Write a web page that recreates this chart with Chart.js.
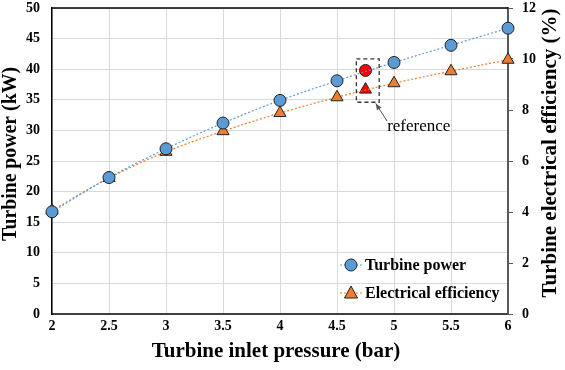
<!DOCTYPE html>
<html>
<head>
<meta charset="utf-8">
<script src="https://cdn.jsdelivr.net/npm/chart.js@4.4.0/dist/chart.umd.min.js"></script>
<style>
  html, body { margin: 0; padding: 0; background: #fff; }
  #wrap { width: 565px; height: 370px; }
</style>
</head>
<body>
<div id="wrap"><canvas id="chart" width="565" height="370"></canvas></div>
<script>
// values
const pressure = [2, 2.5, 3, 3.5, 4, 4.5, 5, 5.5, 6];
const turbinePower = [16.7, 22.3, 27.0, 31.2, 34.9, 38.1, 41.1, 43.9, 46.7];
const elecEfficiency = [4.06, 5.33, 6.36, 7.17, 7.88, 8.5, 9.05, 9.52, 9.97];
const refPressure = [4.75];
const refPower = [39.8];
const refEfficiency = [8.8];
const seriesNames = ['Turbine power', 'Electrical efficiency'];
const refLabel = 'reference';
const xTitle = 'Turbine inlet pressure (bar)';
const yTitle = 'Turbine power (kW)';
const y2Title = 'Turbine electrical efficiency (%)';

const BLUE = '#5b9bd5', ORANGE = '#ed7d31', RED = '#ff0000';
const FONT = '"Liberation Serif", "Times New Roman", serif';

function pts(xs, ys) { return xs.map((x, i) => ({ x: x, y: ys[i] })); }

// top border of the plot frame
const frame = {
  id: 'frame',
  afterDatasetsDraw(chart) {
    const a = chart.chartArea, ctx = chart.ctx;
    ctx.save();
    ctx.strokeStyle = '#000';
    ctx.lineWidth = 1.5;
    ctx.beginPath();
    ctx.moveTo(a.left, a.top);
    ctx.lineTo(a.right, a.top);
    ctx.stroke();
    ctx.restore();
  }
};

// axis titles, drawn by hand so they sit where the original has them
const axisTitles = {
  id: 'axisTitles',
  afterDraw(chart) {
    const a = chart.chartArea, ctx = chart.ctx;
    ctx.save();
    ctx.fillStyle = '#000';
    ctx.textAlign = 'center';
    ctx.textBaseline = 'middle';
    // bottom
    ctx.font = 'bold 21px ' + FONT;
    ctx.fillText(xTitle, (a.left + a.right) / 2 - 4, 352);
    // left (squeezed a little, like the original)
    ctx.save();
    ctx.translate(11, 154);
    ctx.rotate(-Math.PI / 2);
    ctx.font = 'bold 20px ' + FONT;
    const w = ctx.measureText(yTitle).width;
    ctx.scale(174 / w, 1);
    ctx.fillText(yTitle, 0, 0);
    ctx.restore();
    // right
    ctx.save();
    ctx.translate(551, 153);
    ctx.rotate(-Math.PI / 2);
    ctx.font = 'bold 21px ' + FONT;
    ctx.fillText(y2Title, 0, 0);
    ctx.restore();
    ctx.restore();
  }
};

// dashed box + arrow + "reference" label, placed in data units
const refNote = {
  id: 'refNote',
  afterDatasetsDraw(chart) {
    const x = chart.scales.x, y = chart.scales.y, ctx = chart.ctx;
    const x0 = x.getPixelForValue(4.67), x1 = x.getPixelForValue(4.87);
    const y0 = y.getPixelForValue(41.7), y1 = y.getPixelForValue(34.6);
    ctx.save();
    ctx.strokeStyle = '#333';
    ctx.lineWidth = 1.3;
    ctx.setLineDash([4, 3]);
    ctx.strokeRect(x0, y0, x1 - x0, y1 - y0);
    ctx.setLineDash([]);
    // arrow
    const tx = x.getPixelForValue(4.84), ty = y.getPixelForValue(34.4);
    const sx = x.getPixelForValue(4.94), sy = y.getPixelForValue(31.5);
    ctx.strokeStyle = '#555';
    ctx.lineWidth = 1;
    ctx.beginPath();
    ctx.moveTo(sx, sy);
    ctx.lineTo(tx, ty);
    ctx.stroke();
    const ang = Math.atan2(ty - sy, tx - sx);
    ctx.fillStyle = '#555';
    ctx.beginPath();
    ctx.moveTo(tx, ty);
    ctx.lineTo(tx - 7 * Math.cos(ang - 0.4), ty - 7 * Math.sin(ang - 0.4));
    ctx.lineTo(tx - 7 * Math.cos(ang + 0.4), ty - 7 * Math.sin(ang + 0.4));
    ctx.closePath();
    ctx.fill();
    ctx.fillStyle = '#000';
    ctx.font = '17px ' + FONT;
    ctx.textBaseline = 'middle';
    ctx.textAlign = 'left';
    ctx.fillText(refLabel, x.getPixelForValue(4.94), y.getPixelForValue(30.6));
    ctx.restore();
  }
};

// legend inside the plot, bottom right
const innerLegend = {
  id: 'innerLegend',
  afterDraw(chart) {
    const a = chart.chartArea, ctx = chart.ctx;
    const cx = a.right - 157;
    const rows = [a.bottom - 49, a.bottom - 21];
    ctx.save();
    rows.forEach((ry, i) => {
      const ds = chart.data.datasets[i];
      ctx.strokeStyle = ds.borderColor;
      ctx.lineWidth = 1.2;
      ctx.setLineDash([2, 2]);
      ctx.beginPath();
      ctx.moveTo(cx - 11, ry);
      ctx.lineTo(cx + 11, ry);
      ctx.stroke();
      ctx.setLineDash([]);
      ctx.fillStyle = ds.pointBackgroundColor;
      ctx.strokeStyle = '#222';
      ctx.lineWidth = 1;
      ctx.beginPath();
      if (i === 0) {
        ctx.arc(cx, ry, 6, 0, Math.PI * 2);
      } else {
        ctx.moveTo(cx, ry - 7);
        ctx.lineTo(cx + 6.5, ry + 5);
        ctx.lineTo(cx - 6.5, ry + 5);
        ctx.closePath();
      }
      ctx.fill();
      ctx.stroke();
      ctx.fillStyle = '#000';
      ctx.font = 'bold 16px ' + FONT;
      ctx.textBaseline = 'middle';
      ctx.textAlign = 'left';
      ctx.fillText(seriesNames[i], cx + 14, ry + 1);
    });
    ctx.restore();
  }
};

const tickFont = { family: FONT, size: 14, weight: 'bold' };

new Chart(document.getElementById('chart'), {
  type: 'line',
  data: {
    datasets: [
      {
        label: seriesNames[0],
        data: pts(pressure, turbinePower),
        yAxisID: 'y',
        borderColor: BLUE,
        borderWidth: 1.2,
        borderDash: [2, 2],
        tension: 0.35,
        pointStyle: 'circle',
        pointRadius: 6,
        pointBackgroundColor: BLUE,
        pointBorderColor: '#222',
        pointBorderWidth: 1,
        clip: false
      },
      {
        label: seriesNames[1],
        data: pts(pressure, elecEfficiency),
        yAxisID: 'y2',
        borderColor: ORANGE,
        borderWidth: 1.2,
        borderDash: [2, 2],
        tension: 0.35,
        pointStyle: 'triangle',
        pointRadius: 7,
        pointBackgroundColor: ORANGE,
        pointBorderColor: '#222',
        pointBorderWidth: 1,
        clip: false
      },
      {
        label: 'ref power',
        data: pts(refPressure, refPower),
        yAxisID: 'y',
        showLine: false,
        pointStyle: 'circle',
        pointRadius: 6,
        pointBackgroundColor: RED,
        pointBorderColor: '#222',
        pointBorderWidth: 1
      },
      {
        label: 'ref efficiency',
        data: pts(refPressure, refEfficiency),
        yAxisID: 'y2',
        showLine: false,
        pointStyle: 'triangle',
        pointRadius: 7,
        pointBackgroundColor: RED,
        pointBorderColor: '#222',
        pointBorderWidth: 1
      }
    ]
  },
  options: {
    responsive: false,
    animation: false,
    layout: { padding: { top: 6 } },
    plugins: { legend: { display: false }, tooltip: { enabled: false } },
    scales: {
      x: {
        type: 'linear',
        min: 2, max: 6,
        ticks: {
          stepSize: 0.5, color: '#000', font: tickFont, padding: 4, maxRotation: 0,
          callback: v => String(v)
        },
        grid: { color: '#d9d9d9', drawTicks: false },
        border: { color: '#404040', width: 2 },
        afterFit(s) { s.height = 56; s.paddingLeft = 0; s.paddingRight = 0; }
      },
      y: {
        position: 'left',
        min: 0, max: 50,
        ticks: { stepSize: 5, color: '#000', font: tickFont, padding: 12 },
        grid: { color: '#d9d9d9', drawTicks: false },
        border: { color: '#000', width: 1.5 },
        afterFit(s) { s.width = 52; s.paddingTop = 0; s.paddingBottom = 0; }
      },
      y2: {
        position: 'right',
        min: 0, max: 12,
        ticks: { stepSize: 2, color: '#000', font: tickFont, padding: 9 },
        grid: { drawOnChartArea: false, drawTicks: true, tickLength: 5, tickColor: '#595959' },
        border: { color: '#595959', width: 2 },
        afterFit(s) { s.width = 57; s.paddingTop = 0; s.paddingBottom = 0; }
      }
    }
  },
  plugins: [frame, refNote, innerLegend, axisTitles]
});
</script>
</body>
</html>
